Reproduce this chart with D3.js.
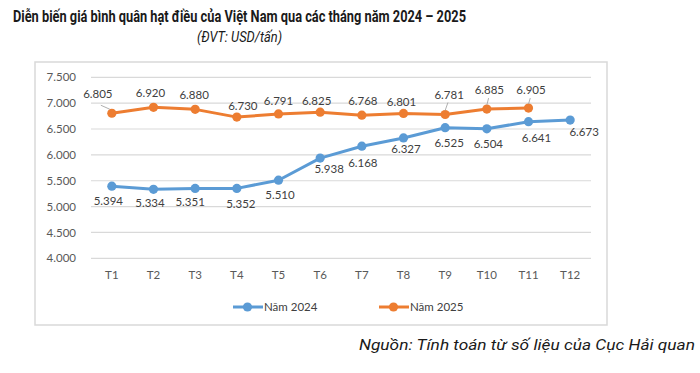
<!DOCTYPE html>
<html>
<head>
<meta charset="utf-8">
<script src="https://cdn.jsdelivr.net/npm/d3@7"></script>
<style>
  html, body { margin: 0; padding: 0; background: #fff; }
  svg { display: block; }
</style>
</head>
<body>
<svg id="chart" width="700" height="373"></svg>
<script>
// ---- data ----
const months = ["T1","T2","T3","T4","T5","T6","T7","T8","T9","T10","T11","T12"];
const values2024 = [5394, 5334, 5351, 5352, 5510, 5938, 6168, 6327, 6525, 6504, 6641, 6673];
const values2025 = [6805, 6920, 6880, 6730, 6791, 6825, 6768, 6801, 6781, 6885, 6905];
const yTicks = [4000, 4500, 5000, 5500, 6000, 6500, 7000, 7500];
const seriesNames = ["Năm 2024", "Năm 2025"];

// ---- layout (label nudges, not data) ----
const nudge2024 = [[-3.5,14.5],[-3.5,13.4],[-5,13.6],[4,15.6],[1.5,15],[9,11],[1,17],[2.5,11.3],[4,15],[1.5,15],[8,16.6],[14,11.6]];
const nudge2025 = [[-14,-19],[-3,-14],[-1,-15],[6,-11],[0,-13],[-3.5,-11.5],[1,-14.5],[-2,-12],[4,-20],[2.5,-19],[2.5,-18]];
const leader2025 = {0: true, 8: true, 9: true, 10: true};

const colors = ["#5B9BD5", "#ED7D31"];
const svg = d3.select("#chart");
const fmt = d3.formatLocale({decimal: ",", thousands: ".", grouping: [3]}).format(",.0f");

const plot = {left: 91, right: 591, top: 77.3, bottom: 258.3};

// title
svg.append("text").attr("x", 13).attr("y", 22)
  .attr("font-family", "Roboto, sans-serif").attr("font-weight", "bold").attr("font-size", 16.5)
  .attr("fill", "#1a1a1a").attr("textLength", 453).attr("lengthAdjust", "spacingAndGlyphs")
  .text("Diễn biến giá bình quân hạt điều của Việt Nam qua các tháng năm 2024 – 2025");
svg.append("text").attr("x", 197).attr("y", 42)
  .attr("font-family", "Roboto, sans-serif").attr("font-style", "italic").attr("font-size", 15.5)
  .attr("fill", "#1a1a1a").attr("textLength", 85).attr("lengthAdjust", "spacingAndGlyphs")
  .text("(ĐVT: USD/tấn)");

// frame
svg.append("rect").attr("x", 35).attr("y", 62).attr("width", 572).attr("height", 263)
  .attr("fill", "#fff").attr("stroke", "#d9d9d9").attr("stroke-width", 1.5);

const x = d3.scaleBand().domain(months).range([plot.left, plot.right]);
const y = d3.scaleLinear().domain([4000, 7500]).range([plot.bottom, plot.top]);
const cx = d => x(d) + x.bandwidth() / 2;

// gridlines
svg.append("g").selectAll("line").data(yTicks).join("line")
  .attr("x1", plot.left).attr("x2", plot.right)
  .attr("y1", d => y(d)).attr("y2", d => y(d))
  .attr("stroke", "#d9d9d9").attr("stroke-width", 1.2);

// y axis
const yAxis = svg.append("g").attr("transform", `translate(${plot.left},0)`)
  .call(d3.axisLeft(y).tickValues(yTicks).tickFormat(fmt).tickSize(0).tickPadding(15));
yAxis.select(".domain").remove();
yAxis.selectAll("text").attr("font-family", "Lato, sans-serif").attr("font-size", 11.5).attr("fill", "#595959");

// x axis
const xAxis = svg.append("g").attr("transform", `translate(0,${plot.bottom})`)
  .call(d3.axisBottom(x).tickSize(0).tickPadding(13));
xAxis.select(".domain").remove();
xAxis.selectAll("text").attr("font-family", "Lato, sans-serif").attr("font-size", 11.5).attr("fill", "#595959");

const line = d3.line().x((d, i) => cx(months[i])).y(d => y(d));

function drawSeries(vals, color, nudges, leaders) {
  const g = svg.append("g");
  g.append("path").datum(vals).attr("d", line)
    .attr("fill", "none").attr("stroke", color).attr("stroke-width", 3)
    .attr("stroke-linejoin", "round").attr("stroke-linecap", "round");
  g.selectAll("circle").data(vals).join("circle")
    .attr("cx", (d, i) => cx(months[i])).attr("cy", d => y(d)).attr("r", 4.6)
    .attr("fill", color);
  if (leaders) {
    g.selectAll("line.leader").data(vals.map((v, i) => [v, i]).filter(p => leaders[p[1]])).join("line")
      .attr("class", "leader")
      .attr("x1", p => p[1] === 0 ? cx(months[0]) - 11 : cx(months[p[1]]) + nudges[p[1]][0] * 0.7)
      .attr("y1", p => p[1] === 0 ? y(p[0]) - 8 : y(p[0]) + nudges[p[1]][1] + 8)
      .attr("x2", p => p[1] === 0 ? cx(months[0]) - 2 : cx(months[p[1]]))
      .attr("y2", p => y(p[0]) - 4)
      .attr("stroke", "#a6a6a6").attr("stroke-width", 0.9);
  }
  g.selectAll("text").data(vals).join("text")
    .attr("x", (d, i) => cx(months[i]) + nudges[i][0])
    .attr("y", (d, i) => y(d) + nudges[i][1])
    .attr("dy", "0.36em").attr("text-anchor", "middle")
    .attr("font-family", "Lato, sans-serif").attr("font-size", 11.5).attr("fill", "#404040")
    .text(d => fmt(d));
}
drawSeries(values2024, colors[0], nudge2024, null);
drawSeries(values2025, colors[1], nudge2025, leader2025);

// legend
const legendX = [233, 379];
seriesNames.forEach((name, i) => {
  const lg = svg.append("g").attr("transform", `translate(${legendX[i]},307)`);
  lg.append("line").attr("x1", 0).attr("x2", 30).attr("y1", 0).attr("y2", 0)
    .attr("stroke", colors[i]).attr("stroke-width", 3);
  lg.append("circle").attr("cx", 14.5).attr("cy", 0).attr("r", 4.6).attr("fill", colors[i]);
  lg.append("text").attr("x", 31).attr("y", 0).attr("dy", "0.36em")
    .attr("font-family", "Lato, sans-serif").attr("font-size", 11.5).attr("fill", "#404040")
    .text(name);
});

// source
svg.append("text").attr("x", 359).attr("y", 350)
  .attr("font-family", "Roboto, sans-serif").attr("font-style", "italic").attr("font-size", 15.5)
  .attr("fill", "#1a1a1a").attr("textLength", 336).attr("lengthAdjust", "spacingAndGlyphs")
  .text("Nguồn: Tính toán từ số liệu của Cục Hải quan");
</script>
</body>
</html>
